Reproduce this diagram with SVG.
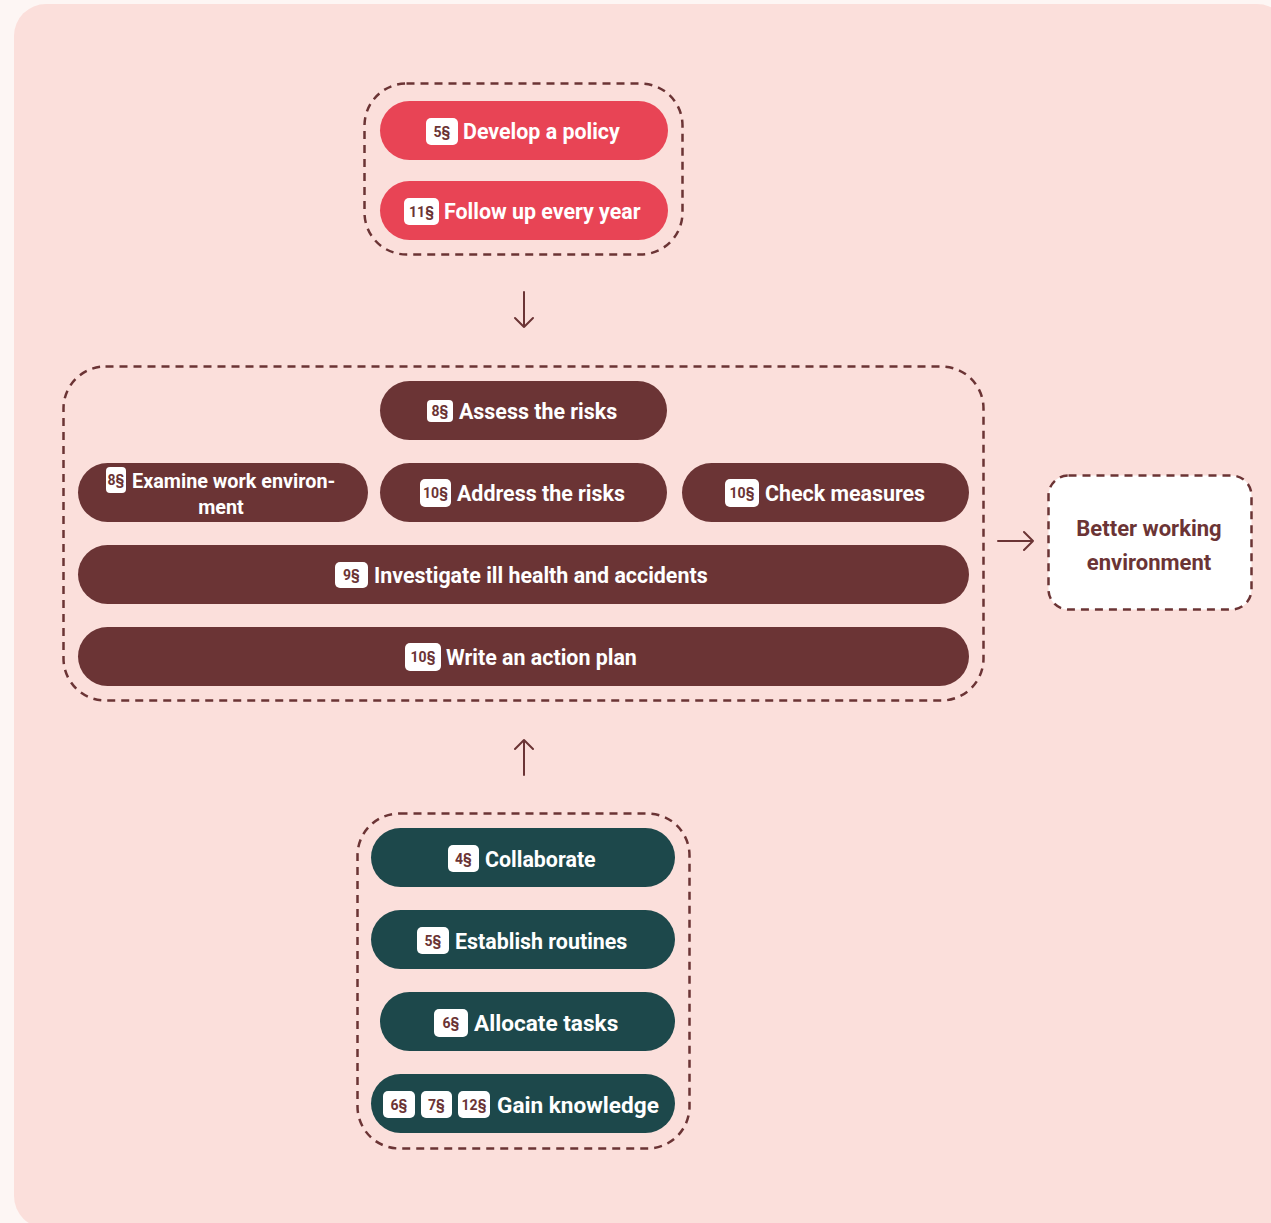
<svg xmlns="http://www.w3.org/2000/svg" width="1271" height="1223" viewBox="0 0 1271 1223">
<defs>
<style>
.grp{fill:none;stroke:#6b3435;stroke-width:2.5;stroke-dasharray:8 6}
.red{fill:#e84455}
.mar{fill:#6b3435}
.teal{fill:#1d484b}
.badge{fill:#ffffff}
.lbl{font-family:Roboto,"Liberation Sans",sans-serif;font-weight:700;font-size:21.4px;fill:#ffffff}
.sm{font-size:19.8px}
.lg{font-size:22.6px}
.bt{font-family:Roboto,"Liberation Sans",sans-serif;font-weight:700;font-size:14px;fill:#6b3435;text-anchor:middle}
.arrow{fill:none;stroke:#6b3435;stroke-width:2;stroke-linecap:round;stroke-linejoin:round}
.out{font-family:Roboto,"Liberation Sans",sans-serif;font-weight:700;font-size:22px;fill:#6b3435;text-anchor:middle}
</style>
</defs>
<rect x="0" y="0" width="1271" height="1223" fill="#fdf6f4"/>
<rect x="14" y="4" width="1275" height="1224" rx="32" fill="#fbdfdb"/>

<g id="connectors">
<path class="arrow" d="M524 292 V327 M515 318 L524 327 L533 318"/>
<path class="arrow" d="M524 775 V740 M515 749 L524 740 L533 749"/>
<path class="arrow" d="M998 541 H1033 M1024 532 L1033 541 L1024 550"/>
</g>

<g id="group-top">
<rect class="grp" x="364.5" y="83.5" width="318" height="171" rx="42"/>
</g>
<g id="group-middle">
<rect class="grp" x="63.5" y="366.5" width="920" height="334" rx="42"/>
</g>
<g id="group-bottom">
<rect class="grp" x="357.5" y="813.5" width="332" height="335" rx="42"/>
</g>

<g id="develop-policy">
<rect class="red" x="380" y="101" width="288" height="59" rx="29.5"/>
<rect class="badge" x="426" y="118" width="32" height="27" rx="5"/>
<text class="bt" x="442" y="136.5">5§</text>
<text class="lbl" x="463" y="138.5">Develop a policy</text>
</g>
<g id="follow-up">
<rect class="red" x="380" y="181" width="288" height="59" rx="29.5"/>
<rect class="badge" x="404" y="198" width="35" height="27" rx="5"/>
<text class="bt" x="421.5" y="216.5">11§</text>
<text class="lbl" x="444" y="218.5">Follow up every year</text>
</g>

<g id="assess-risks">
<rect class="mar" x="380" y="381" width="287" height="59" rx="29.5"/>
<rect class="badge" x="427" y="400" width="26" height="22" rx="4"/>
<text class="bt" x="440" y="416">8§</text>
<text class="lbl" x="459" y="418.5">Assess the risks</text>
</g>
<g id="examine">
<rect class="mar" x="78" y="463" width="290" height="59" rx="29.5"/>
<rect class="badge" x="106" y="467" width="20" height="26" rx="4"/>
<text class="bt" x="116" y="485">8§</text>
<text class="lbl sm" x="132" y="488">Examine work environ-</text>
<text class="lbl sm" x="221" y="514" text-anchor="middle">ment</text>
</g>
<g id="address-risks">
<rect class="mar" x="380" y="463" width="287" height="59" rx="29.5"/>
<rect class="badge" x="420" y="479" width="31" height="28" rx="5"/>
<text class="bt" x="435.5" y="498">10§</text>
<text class="lbl" x="457" y="501">Address the risks</text>
</g>
<g id="check-measures">
<rect class="mar" x="682" y="463" width="287" height="59" rx="29.5"/>
<rect class="badge" x="725" y="479" width="34" height="28" rx="5"/>
<text class="bt" x="742" y="498">10§</text>
<text class="lbl" x="765" y="501">Check measures</text>
</g>
<g id="investigate">
<rect class="mar" x="78" y="545" width="891" height="59" rx="29.5"/>
<rect class="badge" x="335" y="562" width="33" height="26" rx="5"/>
<text class="bt" x="351.5" y="580">9§</text>
<text class="lbl" x="374" y="583">Investigate ill health and accidents</text>
</g>
<g id="action-plan">
<rect class="mar" x="78" y="627" width="891" height="59" rx="29.5"/>
<rect class="badge" x="405" y="643" width="36" height="28" rx="5"/>
<text class="bt" x="423" y="662">10§</text>
<text class="lbl" x="446" y="665">Write an action plan</text>
</g>

<g id="better-environment">
<rect x="1048.5" y="475.5" width="203" height="134" rx="20" fill="#ffffff" stroke="#6b3435" stroke-width="2.5" stroke-dasharray="8 6"/>
<text class="out" x="1149" y="536">Better working</text>
<text class="out" x="1149" y="570">environment</text>
</g>

<g id="collaborate">
<rect class="teal" x="371" y="828" width="304" height="59" rx="29.5"/>
<rect class="badge" x="448" y="845" width="31" height="27" rx="5"/>
<text class="bt" x="463.5" y="863.5">4§</text>
<text class="lbl" x="485" y="867">Collaborate</text>
</g>
<g id="establish-routines">
<rect class="teal" x="371" y="910" width="304" height="59" rx="29.5"/>
<rect class="badge" x="417" y="927" width="32" height="27" rx="5"/>
<text class="bt" x="433" y="945.5">5§</text>
<text class="lbl" x="455" y="949">Establish routines</text>
</g>
<g id="allocate-tasks">
<rect class="teal" x="380" y="992" width="295" height="59" rx="29.5"/>
<rect class="badge" x="434" y="1009" width="34" height="28" rx="5"/>
<text class="bt" x="451" y="1028">6§</text>
<text class="lbl lg" x="474" y="1031">Allocate tasks</text>
</g>
<g id="gain-knowledge">
<rect class="teal" x="371" y="1074" width="304" height="59" rx="29.5"/>
<rect class="badge" x="383" y="1091" width="32" height="27" rx="5"/>
<text class="bt" x="399" y="1109.5">6§</text>
<rect class="badge" x="421" y="1091" width="31" height="27" rx="5"/>
<text class="bt" x="436.5" y="1109.5">7§</text>
<rect class="badge" x="458" y="1091" width="32" height="27" rx="5"/>
<text class="bt" x="474" y="1109.5">12§</text>
<text class="lbl lg" x="497" y="1113">Gain knowledge</text>
</g>
</svg>
